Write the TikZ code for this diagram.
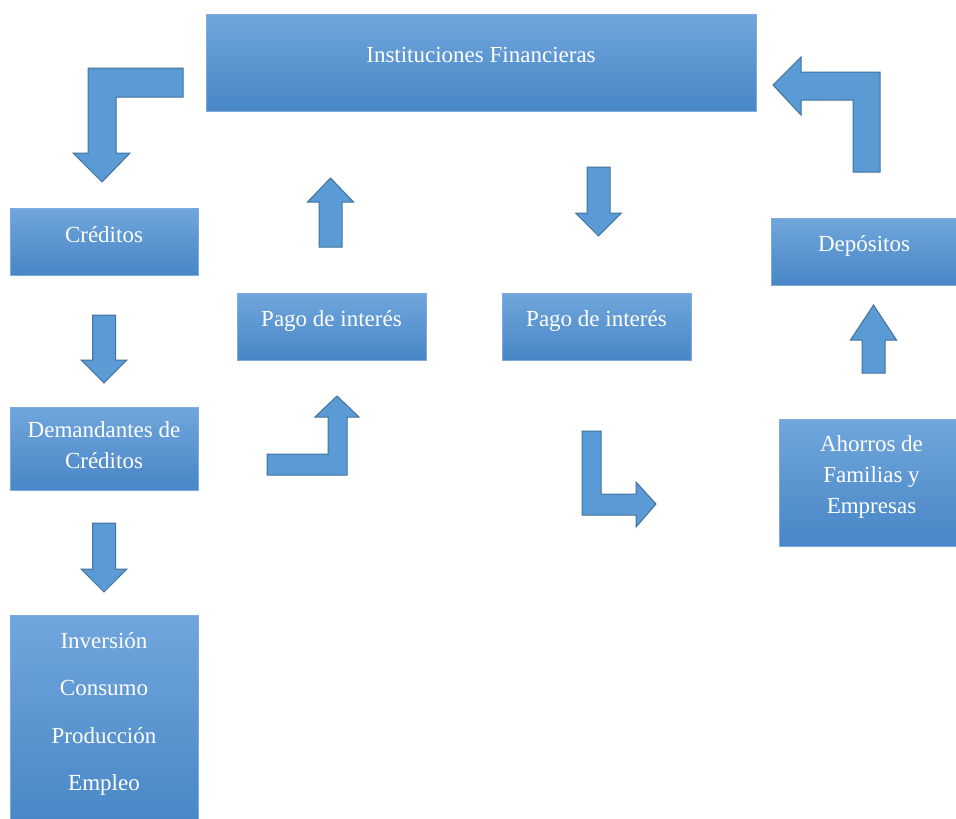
\documentclass[tikz,border=0pt]{standalone}
\usepackage{fontspec}
\setmainfont{Liberation Serif}
\usepackage{tikz}
\usetikzlibrary{calc}
\definecolor{cajaarriba}{HTML}{70A6DC}
\definecolor{cajamedio}{HTML}{5799D9}
\definecolor{cajaabajo}{HTML}{4886C6}
\definecolor{cajaborde}{HTML}{80AADB}
\definecolor{flecharelleno}{HTML}{5B9BD5}
\definecolor{flechaborde}{HTML}{41719C}
\tikzset{
	caja/.style={draw=cajaborde, line width=0.8pt, top color=cajaarriba, middle color=cajamedio, bottom color=cajaabajo, inner sep=0pt},
	texto/.style={text=white, align=center, font=\fontsize{23}{31}\selectfont, inner sep=0pt},
	flecha/.style={fill=flecharelleno, draw=flechaborde, line width=1pt, line join=miter}
}
\def\flechav(#1,#2,#3,#4){\draw[flecha] ({#1-11.5},#2) -- ({#1+11.5},#2) -- ({#1+11.5},#3) -- ({#1+23},#3) -- (#1,#4) -- ({#1-23},#3) -- ({#1-11.5},#3) -- cycle;}

\begin{document}
\begin{tikzpicture}[x=1pt, y=-1pt]
			%%%%% START %%%%%
			
			\useasboundingbox (0,0) rectangle (956,819);
			
			\node[caja, minimum width=550pt, minimum height=97pt] (inst) at (481,62.5) {};
			\node[texto] (instT) at ([yshift=7.5pt]inst.center) {Instituciones Financieras};
			
			\node[caja, minimum width=188pt, minimum height=67pt] (cred) at (104,241.5) {};
			\node[texto] (credT) at ([yshift=6.5pt]cred.center) {Créditos};
			
			\node[caja, minimum width=188pt, minimum height=83pt] (dem) at (104,448.5) {};
			\node[texto] (demT) at ([yshift=3pt]dem.center) {Demandantes de\\Créditos};
			
			\node[caja, minimum width=188pt, minimum height=215pt] (inv) at (104,722.5) {};
			\node[texto] (invT) at (104,714) {Inversión\\[16.5pt]Consumo\\[16.5pt]Producción\\[16.5pt]Empleo};
			
			\node[caja, minimum width=189pt, minimum height=67pt] (pagoI) at (331.5,326.5) {};
			\node[texto] (pagoIT) at ([yshift=6pt]pagoI.center) {Pago de interés};
			
			\node[caja, minimum width=189pt, minimum height=67pt] (pagoD) at (596.5,326.5) {};
			\node[texto] (pagoDT) at ([yshift=6pt]pagoD.center) {Pago de interés};
			
			\node[caja, minimum width=186pt, minimum height=67pt] (dep) at (864,251.5) {};
			\node[texto] (depT) at ([yshift=6pt]dep.center) {Depósitos};
			
			\node[caja, minimum width=185pt, minimum height=127pt] (aho) at (871.5,482.5) {};
			\node[texto] (ahoT) at ([yshift=6pt]aho.center) {Ahorros de\\Familias y\\Empresas};
			
			% flechas rectas
			\flechav(104,315,360,383)
			\flechav(104,523,569,592)
			\flechav(330.5,247,202,178)
			\flechav(598.5,167,213,236)
			\flechav(873.5,373,340,305)
			
			% flechas dobladas
			\draw[flecha] (183,68) -- (88,68) -- (88,153) -- (73,153) -- (102,182) -- (130,153) -- (116,153) -- (116,97) -- (183,97) -- cycle;
			\draw[flecha] (853,172) -- (853,100) -- (801,100) -- (801,115) -- (773,85) -- (801,57) -- (801,72) -- (880,72) -- (880,172) -- cycle;
			\draw[flecha] (267,454) -- (328,454) -- (328,417) -- (315,417) -- (337,396) -- (359,417) -- (347,417) -- (347,475) -- (267,475) -- cycle;
			\draw[flecha] (582,431) -- (601,431) -- (601,494) -- (636,494) -- (636,482) -- (656,504) -- (636,527) -- (636,515) -- (582,515) -- cycle;
			
			%%%%% END %%%%%
\end{tikzpicture}
\end{document}
